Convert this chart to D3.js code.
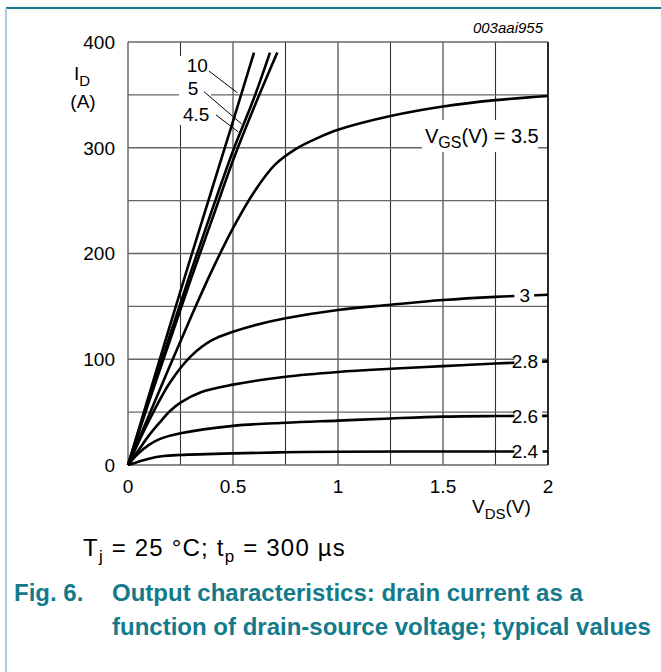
<!DOCTYPE html>
<html><head><meta charset="utf-8">
<script src="https://cdn.jsdelivr.net/npm/d3@7"></script>
<style>
html,body{margin:0;padding:0;background:#fff;}
svg{display:block;font-family:"Liberation Sans",Arial,Helvetica,sans-serif;}
</style></head>
<body>
<svg id="chart" width="661" height="672"></svg>
<script>
// ---- data ----
const xTicks = [0, 0.5, 1, 1.5, 2];
const yTicks = [0, 100, 200, 300, 400];
const xTickLabels = ["0", "0.5", "1", "1.5", "2"];
const yTickLabels = ["0", "100", "200", "300", "400"];

const vgs10  = [[0,0],[0.1,66],[0.2,132],[0.3,197],[0.4,261],[0.5,325],[0.6,390]];
const vgs5   = [[0,0],[0.1,62],[0.2,123],[0.3,183],[0.4,241],[0.5,297],[0.6,347],[0.676,390]];
const vgs45  = [[0,0],[0.1,60],[0.2,118],[0.3,176],[0.4,232],[0.5,288],[0.6,338],[0.711,390]];
const vgs35  = [[0,0],[0.1,47],[0.2,94],[0.3,140],[0.4,184],[0.5,224],[0.6,258],[0.7,284],[0.8,299],[0.9,309],[1.0,317],[1.25,330],[1.5,339],[1.75,345],[2.0,349]];
const vgs30  = [[0,0],[0.1,42],[0.2,78],[0.3,103],[0.4,118],[0.5,126],[0.6,132],[0.75,138.7],[1.0,146.6],[1.25,151.5],[1.5,156],[1.75,159],[2.0,161]];
const vgs28  = [[0,0],[0.05,14],[0.1,28],[0.15,40],[0.2,51],[0.25,59],[0.35,69],[0.5,76],[0.75,83.5],[1.0,88],[1.25,91],[1.5,93.5],[1.75,96],[2.0,98]];
const vgs26  = [[0,0],[0.05,11],[0.1,19],[0.15,24.5],[0.25,30],[0.5,37],[0.75,40],[1.0,42],[1.25,44],[1.5,45.7],[1.75,46.3],[2.0,46.5]];
const vgs24  = [[0,0],[0.1,6],[0.17,8.5],[0.25,9.5],[0.5,11],[0.75,12],[1.0,12.6],[1.5,12.7],[2.0,12.7]];

const seriesNames = ["10", "5", "4.5", "3.5", "3", "2.8", "2.6", "2.4"];
const seriesData = [vgs10, vgs5, vgs45, vgs35, vgs30, vgs28, vgs26, vgs24];
const rightLabels = ["3", "2.8", "2.6", "2.4"];
const rightSeries = [vgs30, vgs28, vgs26, vgs24];

// ---- chart ----
const svg = d3.select("#chart");
const x = d3.scaleLinear().domain([0, 2]).range([128, 548]);
const y = d3.scaleLinear().domain([0, 400]).range([465, 42]);
const teal = "#137a8c";

// frame
svg.append("line").attr("x1", 6).attr("x2", 661).attr("y1", 8).attr("y2", 8)
  .attr("stroke", teal).attr("stroke-width", 2);
svg.append("line").attr("x1", 6).attr("x2", 6).attr("y1", 8).attr("y2", 672)
  .attr("stroke", "#a7cfdb").attr("stroke-width", 2);

// grid
const g = svg.append("g");
const vGrid = d3.range(0, 2.0001, 0.25);
const hGrid = d3.range(0, 400.001, 50);
g.selectAll("line.v").data(vGrid).enter().append("line")
  .attr("x1", d => x(d)).attr("x2", d => x(d)).attr("y1", y(0)).attr("y2", y(400))
  .attr("stroke", "#333").attr("stroke-width", 1.1);
g.selectAll("line.h").data(hGrid).enter().append("line")
  .attr("x1", x(0)).attr("x2", x(2)).attr("y1", d => y(d)).attr("y2", d => y(d))
  .attr("stroke", "#666").attr("stroke-width", 1.4);
g.append("line").attr("x1", x(2)).attr("x2", x(2)).attr("y1", y(0)).attr("y2", y(400))
  .attr("stroke", "#111").attr("stroke-width", 1.6);

// tick labels
svg.selectAll("text.yt").data(yTicks).enter().append("text")
  .attr("x", 115).attr("y", d => y(d)).attr("dy", "0.36em")
  .attr("text-anchor", "end").attr("font-size", 19).text((d, i) => yTickLabels[i]);
svg.selectAll("text.xt").data(xTicks).enter().append("text")
  .attr("x", d => x(d)).attr("y", 493)
  .attr("text-anchor", "middle").attr("font-size", 19).text((d, i) => xTickLabels[i]);

// axis titles
const id = svg.append("text").attr("x", 74).attr("y", 80).attr("font-size", 19);
id.append("tspan").text("I");
id.append("tspan").attr("dy", 6).attr("font-size", 15).text("D");
svg.append("text").attr("x", 83).attr("y", 108).attr("text-anchor", "middle")
  .attr("font-size", 19).text("(A)");
const vds = svg.append("text").attr("x", 472).attr("y", 513).attr("font-size", 19);
vds.append("tspan").text("V");
vds.append("tspan").attr("dy", 6).attr("font-size", 15).text("DS");
vds.append("tspan").attr("dy", -6).text("(V)");

svg.append("text").attr("x", 543).attr("y", 33).attr("text-anchor", "end")
  .attr("font-size", 15).attr("font-style", "italic").text("003aai955");

// curves
const line = d3.line().x(d => x(d[0])).y(d => y(d[1])).curve(d3.curveCatmullRom.alpha(0.5));
svg.append("g").selectAll("path").data(seriesData).enter().append("path")
  .attr("d", line).attr("fill", "none").attr("stroke", "#000")
  .attr("stroke-width", 2.6).attr("stroke-linejoin", "round");

// right labels with white backgrounds
rightLabels.forEach((lab, i) => {
  const s = rightSeries[i];
  const yy = y(s[s.length - 1][1]);
  const t = svg.append("text").attr("x", x(1.89)).attr("y", yy).attr("dy", "0.36em")
    .attr("text-anchor", "middle").attr("font-size", 19).text(lab);
  const bb = t.node().getBBox();
  svg.insert("rect", () => t.node())
    .attr("x", x(1.84)).attr("y", yy - 6)
    .attr("width", bb.x + bb.width + 4 - x(1.84)).attr("height", 12).attr("fill", "#fff");
});

// VGS label
svg.append("rect").attr("x", 422).attr("y", 120).attr("width", 116).attr("height", 32).attr("fill", "#fff");
const vl = svg.append("text").attr("x", 425).attr("y", 143).attr("font-size", 20);
vl.append("tspan").text("V");
vl.append("tspan").attr("dy", 5).attr("font-size", 16).text("GS");
vl.append("tspan").attr("dy", -5).text("(V) = " + seriesNames[3]);

// top-left labels with leaders
svg.append("rect").attr("x", 179).attr("y", 56).attr("width", 32).attr("height", 69).attr("fill", "#fff");
const leftLab = [
  {t: seriesNames[0], tx: 0.28,  ty: 372, a: [0.386, 372.5], b: [0.521, 352]},
  {t: seriesNames[1], tx: 0.285, ty: 350, a: [0.362, 353],   b: [0.541, 322.5]},
  {t: seriesNames[2], tx: 0.262, ty: 325, a: [0.419, 331],   b: [0.525, 315]}
];
leftLab.forEach(l => {
  svg.append("text").attr("x", x(l.tx)).attr("y", y(l.ty)).attr("font-size", 19).text(l.t);
  svg.append("line").attr("x1", x(l.a[0])).attr("y1", y(l.a[1])).attr("x2", x(l.b[0])).attr("y2", y(l.b[1]))
    .attr("stroke", "#000").attr("stroke-width", 1);
});

// caption
const cap = svg.append("text").attr("x", 83).attr("y", 556).attr("font-size", 24).attr("letter-spacing", 1.2);
cap.append("tspan").text("T");
cap.append("tspan").attr("dy", 6).attr("font-size", 17).text("j");
cap.append("tspan").attr("dy", -6).text(" = 25 °C; t");
cap.append("tspan").attr("dy", 6).attr("font-size", 17).text("p");
cap.append("tspan").attr("dy", -6).text(" = 300 µs");

// figure title
svg.append("text").attr("x", 14).attr("y", 601).attr("font-size", 24).attr("font-weight", "bold")
  .attr("fill", teal).text("Fig. 6.");
svg.append("text").attr("x", 112).attr("y", 601).attr("font-size", 24).attr("font-weight", "bold")
  .attr("fill", teal).text("Output characteristics: drain current as a");
svg.append("text").attr("x", 112).attr("y", 635).attr("font-size", 24).attr("font-weight", "bold")
  .attr("fill", teal).text("function of drain-source voltage; typical values");
</script>
</body></html>
